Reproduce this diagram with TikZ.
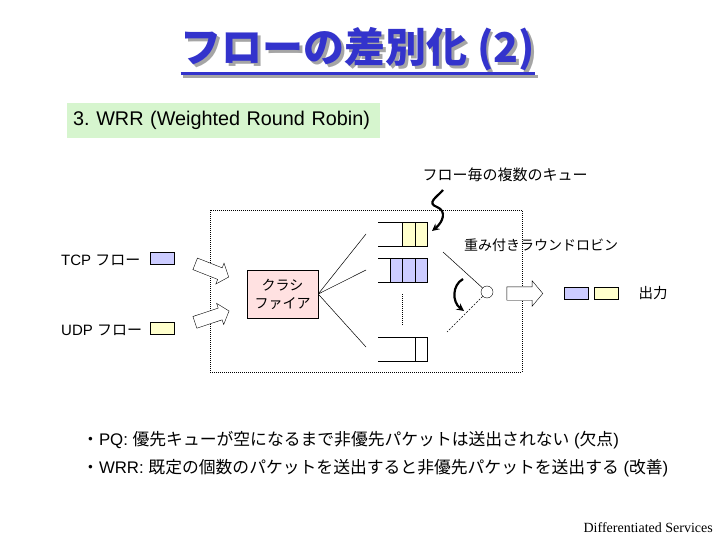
\documentclass[tikz,border=0pt]{standalone}
\usepackage{fontspec}
\setmainfont{Liberation Sans}
\newfontfamily\jp{Noto Sans CJK JP}
\newfontfamily\timesfont{Liberation Serif}
\usetikzlibrary{shapes.arrows}
\newcommand\jt[1]{{\jp #1}}
\definecolor{titleblue}{RGB}{51,51,204}
\definecolor{shadowgray}{RGB}{165,165,165}
\definecolor{tcpblue}{RGB}{204,204,255}
\definecolor{udpyellow}{RGB}{255,255,204}
\definecolor{clspink}{RGB}{255,225,225}
\definecolor{wrrgreen}{RGB}{214,245,206}
\frenchspacing
\begin{document}
\begin{tikzpicture}[x=1pt,y=-1pt,>=stealth]
  \tikzstyle{headline}=[font=\jp\bfseries\fontsize{41}{45}\selectfont, inner sep=0, anchor=base]
  \tikzstyle{txt}=[font=\fontsize{15}{18}\selectfont, inner sep=0]
  \tikzstyle{packet}=[draw, minimum width=24pt, minimum height=12pt, inner sep=0]
  \tikzstyle{cell}=[draw, minimum width=12.3pt, minimum height=24pt, inner sep=0]
  \tikzstyle{fat}=[draw, fill=white, single arrow, single arrow head extend=5pt, single arrow tip angle=100,
    text height=12pt, text depth=0pt, inner xsep=0, inner ysep=0, minimum height=36pt]
  \tikzstyle{wire}=[line width=0.5pt]
  \tikzstyle{dots}=[dash pattern=on 1pt off 1pt]

  \useasboundingbox (0,0) rectangle (720,540);

  \node[headline, text=shadowgray] (titleshadow) at (360.5,65.5) {フローの差別化 (2)};
  \draw[shadowgray, line width=3pt] ([yshift=-11pt]titleshadow.base west) -- ([yshift=-11pt]titleshadow.base east);
  \node[headline, text=titleblue] (title) at (358,63) {フローの差別化 (2)};
  \draw[titleblue, line width=3pt] ([yshift=-11pt]title.base west) -- ([yshift=-11pt]title.base east);

  \node[fill=wrrgreen, anchor=west, text width=301pt, inner xsep=6pt, inner ysep=0, minimum height=35pt,
    align=left, font=\fontsize{19.8}{24}\selectfont] (wrr) at (67,120.5) {3. WRR (Weighted Round Robin)};

  \node[draw, dots, minimum width=312pt, minimum height=162pt, inner sep=0] (router) at (366,291) {};

  \node[txt, anchor=west] (tcp) at (61,260) {TCP \jt{フロー}};
  \node[packet, fill=tcpblue] (tcppkt) at (162,258) {};
  \node[txt, anchor=west] (udp) at (61,330) {UDP \jt{フロー}};
  \node[packet, fill=udpyellow] (udppkt) at (162,328) {};
  \node[fat, rotate=-21.5] (inarrow1) at (209.5,269.5) {};
  \node[fat, rotate=18.4] (inarrow2) at (209.5,317.5) {};

  \node[draw, fill=clspink, minimum width=71pt, minimum height=48pt, inner sep=0, align=center,
    font=\jp\fontsize{14}{18}\selectfont] (cls) at (282.5,294) {クラシ\\ファイア};

  \coordinate (q1in) at (366,234);
  \coordinate (q2in) at (366,270);
  \coordinate (q3in) at (366,347);
  \draw[wire] (cls.east) -- (q1in);
  \draw[wire] (cls.east) -- (q2in);
  \draw[wire] (cls.east) -- (q3in);

  \draw (378,222) -| (427,246) -- (378,246);
  \draw (378,258) -| (427,282) -- (378,282);
  \draw (378,337) -| (427,361) -- (378,361);
  \node[cell, fill=udpyellow] (q1a) at (408.55,234) {};
  \node[cell, fill=udpyellow] (q1b) at (420.85,234) {};
  \node[cell, fill=tcpblue] (q2a) at (396.25,270) {};
  \node[cell, fill=tcpblue] (q2b) at (408.55,270) {};
  \node[cell, fill=tcpblue] (q2c) at (420.85,270) {};
  \node[cell] (q3a) at (420.85,349) {};
  \coordinate (gaptop) at (402,294);
  \coordinate (gapbot) at (402,325);
  \draw[dots] (gaptop) -- (gapbot);

  \node[txt, font=\jp\fontsize{15}{18}\selectfont] (qnote) at (505,175) {フロー毎の複数のキュー};
  \coordinate (sqstart) at (443,190);
  \coordinate (sqend) at (432,231);
  \draw[->, line width=2.2pt] (sqstart) .. controls (437,197) and (426,203) .. (437,207)
    .. controls (447,211) and (443,222) .. (sqend);

  \node[draw, circle, fill=white, minimum size=12pt, inner sep=0] (rr) at (487,292) {};
  \coordinate (rrtop) at (443,252);
  \coordinate (rrbot) at (447,332);
  \draw[wire] (rrtop) -- (rr);
  \draw[wire, dash pattern=on 2pt off 1.5pt] (rr) -- (rrbot);
  \coordinate (turnA) at (463,279);
  \coordinate (turnB) at (464,311);
  \draw[->, line width=2.2pt] (turnA) .. controls (452,285) and (452,302) .. (turnB);
  \node[txt, font=\jp\fontsize{14}{17}\selectfont] (wrrname) at (541,245) {重み付きラウンドロビン};

  \node[fat, text height=13pt, single arrow head extend=6pt] (outarrow) at (522,293.5) {};
  \node[packet, fill=tcpblue] (out1) at (576,293) {};
  \node[packet, fill=udpyellow] (out2) at (606,293) {};
  \node[txt, font=\jp\fontsize{14.5}{17}\selectfont] (outlabel) at (653,293) {出力};

  \node[txt, anchor=west, font=\fontsize{16.8}{20}\selectfont] (pq) at (82,440)
    {\jt{・}PQ: \jt{優先キューが空になるまで非優先パケットは送出されない} (\jt{欠点})};
  \node[txt, anchor=west, font=\fontsize{16.8}{20}\selectfont] (wrrnote) at (82,468)
    {\jt{・}WRR: \jt{既定の個数のパケットを送出すると非優先パケットを送出する} (\jt{改善})};

  \node[txt, anchor=east, font=\timesfont\fontsize{14}{16}\selectfont] (footer) at (713,528) {Differentiated Services};
\end{tikzpicture}
\end{document}
